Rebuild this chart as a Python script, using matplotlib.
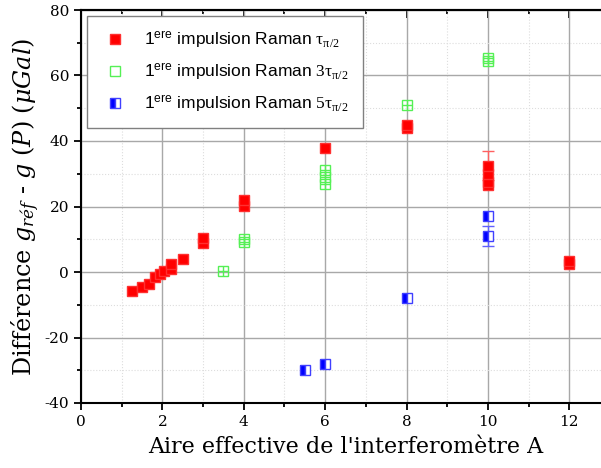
import matplotlib
matplotlib.use("Agg")
import matplotlib.pyplot as plt
from matplotlib.ticker import MultipleLocator

plt.rcParams['font.family'] = 'DejaVu Serif'
plt.rcParams['axes.unicode_minus'] = False
plt.rcParams['mathtext.fontset'] = 'custom'
plt.rcParams['mathtext.rm'] = 'DejaVu Serif'
plt.rcParams['mathtext.it'] = 'DejaVu Serif:italic'
plt.rcParams['mathtext.sf'] = 'Liberation Sans'
plt.rcParams['mathtext.bf'] = 'Liberation Serif'

# 1ere impulsion Raman tau_pi/2
tau_x = [1.25, 1.5, 1.68, 1.82, 1.94, 2.05, 2.22, 2.22, 2.5, 3.0, 3.0, 4.0, 4.0, 6.0, 8.0, 8.0, 10.0, 10.0, 10.0, 10.0, 12.0, 12.0]
tau_y = [-5.8, -4.6, -3.8, -1.5, -0.6, 0.2, 1.0, 2.3, 4.0, 8.8, 10.5, 20.2, 22.0, 37.8, 44.0, 45.0, 26.5, 27.5, 30.0, 32.5, 2.5, 3.3]

# 1ere impulsion Raman 3 tau_pi/2
tau3_x = [3.5, 4.0, 4.0, 6.0, 6.0, 6.0, 8.0, 10.0, 10.0]
tau3_y = [0.3, 9.3, 10.0, 27.0, 29.0, 31.0, 51.0, 64.3, 65.3]

# 1ere impulsion Raman 5 tau_pi/2
tau5_x = [5.5, 6.0, 8.0, 10.0, 10.0]
tau5_y = [-30.0, -28.0, -7.8, 17.0, 11.0]

# error bars visible on the plot
err_x = [10.0]
err_tau_y = [32.5]
err_tau = [4.5]
err_tau5_y = [11.0]
err_tau5 = [3.0]

fig = plt.figure(figsize=(6.01, 4.68), dpi=100)
ax = fig.add_axes([81/601, 65/468, 529/601, 393/468])

ms = 7
green = '#55f055'
ax.errorbar(err_x, err_tau_y, yerr=err_tau, fmt='none', ecolor='#ff6060', elinewidth=1, capsize=4, zorder=2)
ax.errorbar(err_x, err_tau5_y, yerr=err_tau5, fmt='none', ecolor='#6060ff', elinewidth=1, capsize=4, zorder=2)

ax.plot(tau_x, tau_y, 's', color='red', mec='#ff3030', ms=ms, ls='none', zorder=3,
        label=r'1$^{\mathsf{ere}}$ impulsion Raman $\mathbf{\tau}_{\mathbf{\pi/2}}$')
ax.plot(tau3_x, tau3_y, 's', mfc='none', mec=green, ms=ms, mew=1, ls='none', zorder=3,
        label=r'1$^{\mathsf{ere}}$ impulsion Raman $\mathbf{3\tau}_{\mathbf{\pi/2}}$')
ax.plot(tau3_x, tau3_y, '+', color=green, ms=ms, mew=1, ls='none', zorder=3)
ax.plot(tau5_x, tau5_y, 's', fillstyle='left', color='blue', mfc='blue', mfcalt='white', mec='#4040ff',
        ms=ms, mew=1, ls='none', zorder=3,
        label=r'1$^{\mathsf{ere}}$ impulsion Raman $\mathbf{5\tau}_{\mathbf{\pi/2}}$')

ax.set_xlim(0, 13)
ax.set_ylim(-40, 80)
ax.xaxis.set_major_locator(MultipleLocator(2))
ax.xaxis.set_minor_locator(MultipleLocator(1))
ax.yaxis.set_major_locator(MultipleLocator(20))
ax.yaxis.set_minor_locator(MultipleLocator(10))

ax.grid(which='major', color='#a8a8a8', lw=1, ls='-')
ax.grid(which='minor', color='#dddddd', lw=0.8, ls=':')
ax.set_axisbelow(True)

for s in ax.spines.values():
    s.set_linewidth(1.5)
ax.tick_params(which='both', direction='out', width=1.3, labelsize=11)
ax.tick_params(which='major', length=5)
ax.tick_params(which='minor', length=3)

# top axis: inward ticks, no labels
top = ax.secondary_xaxis('top')
top.xaxis.set_major_locator(MultipleLocator(2))
top.xaxis.set_minor_locator(MultipleLocator(1))
top.tick_params(which='both', direction='in', width=1.3, labeltop=False)
top.tick_params(which='major', length=6)
top.tick_params(which='minor', length=3)
top.spines['top'].set_linewidth(1.5)

ax.set_xlabel("Aire effective de l'interferomètre A", fontsize=16, labelpad=5)
ax.set_ylabel(r'Différence $\mathit{g}_{\mathit{réf}}$ - $\mathit{g\ (P)\ (\mu Gal)}$', fontsize=17.2, labelpad=2)

leg = ax.legend(loc='upper left', numpoints=1, fancybox=False, framealpha=1, edgecolor='#808080',
                prop={'family': 'Liberation Sans', 'size': 12.5}, borderpad=0.8, labelspacing=0.65,
                handletextpad=0.9, handlelength=1.6, bbox_to_anchor=(0.0, 1.0), borderaxespad=0.35)
leg.get_frame().set_linewidth(1)

fig.savefig('out.png', dpi=100)
